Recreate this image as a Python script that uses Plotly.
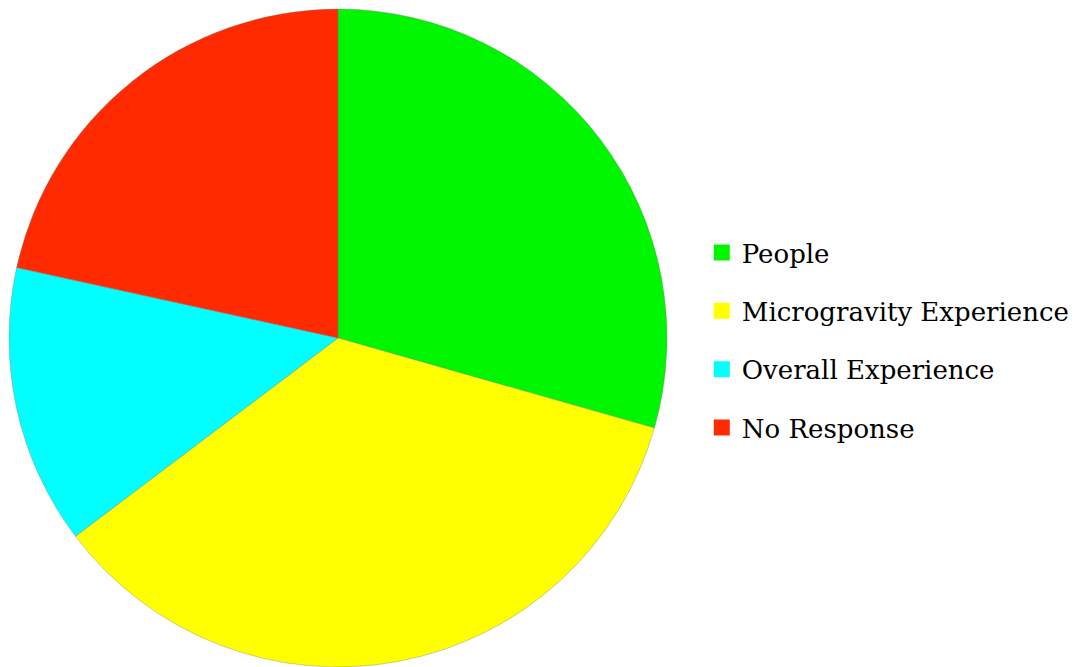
import plotly.graph_objects as go

categories = ["People", "Microgravity Experience", "Overall Experience", "No Response"]
values = [15, 18, 7, 11]
colors = ["#00F500", "#FFFF00", "#00FFFF", "#FF2A00"]

fig = go.Figure()
fig.add_trace(go.Pie(
    labels=categories, values=values, sort=False, direction="clockwise",
    rotation=0, textinfo="none", hoverinfo="label+percent",
    marker=dict(colors=colors, line=dict(color="rgba(120,120,120,0.6)", width=0.6)),
    domain=dict(x=[9/1083, 667/1083], y=[0, 658/667]),
    showlegend=False,
))
for name, col in zip(categories, colors):
    fig.add_trace(go.Scatter(
        x=[None], y=[None], mode="markers", name=name, legendgroup=name,
        marker=dict(symbol="square", size=16, color=col),
    ))

fig.update_layout(
    width=1083, height=667,
    margin=dict(l=0, r=0, t=0, b=0),
    paper_bgcolor="white", plot_bgcolor="white",
    xaxis=dict(visible=False), yaxis=dict(visible=False),
    legend=dict(
        x=0.648, y=0.49, xanchor="left", yanchor="middle",
        font=dict(family="DejaVu Serif", size=26, color="black"),
        tracegroupgap=21.5,
        bgcolor="rgba(0,0,0,0)",
    ),
)
fig.write_html("out.html")
